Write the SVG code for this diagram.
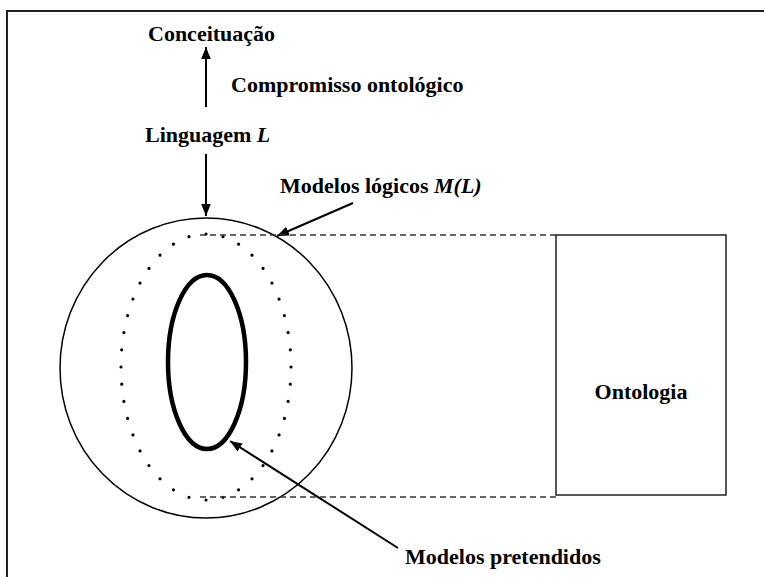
<svg xmlns="http://www.w3.org/2000/svg" width="764" height="577" viewBox="0 0 764 577">
<style>
text{font-family:"Liberation Serif","Times New Roman",serif;font-weight:bold;font-size:22px;fill:#000}
.ln{stroke:#000;stroke-width:2;fill:none}
.dash{stroke:#333;stroke-width:1.5;stroke-dasharray:6 4;fill:none}
</style>
<defs>
<marker id="ah2" viewBox="0 0 10 10" refX="10" refY="5" markerWidth="12" markerHeight="12" orient="auto" markerUnits="userSpaceOnUse">
<path d="M0,1 L10,5 L0,9 z" fill="#000"/>
</marker>
</defs>
<rect width="764" height="577" fill="#fff"/>
<path d="M7,577 V11 H764" fill="none" stroke="#222" stroke-width="2"/>
<g id="conceituacao"><text x="148" y="41">Conceituação</text></g>
<g id="compromisso"><text x="231" y="92">Compromisso ontológico</text></g>
<g id="linguagem"><text x="145" y="142">Linguagem <tspan font-style="italic">L</tspan></text></g>
<g id="modelos-logicos-label"><text x="280" y="193">Modelos lógicos <tspan font-style="italic">M(L)</tspan></text></g>
<g id="modelos-pretendidos-label"><text x="405" y="564">Modelos pretendidos</text></g>
<g id="circulo"><ellipse cx="206" cy="368" rx="146" ry="150" fill="none" stroke="#000" stroke-width="1.5"/></g>
<g id="modelos-logicos"><ellipse cx="206" cy="367" rx="85" ry="133" fill="none" stroke="#000" stroke-width="3.2" stroke-linecap="round" stroke-dasharray="0 1" pathLength="40"/></g>
<g id="modelos-pretendidos"><ellipse cx="207" cy="362" rx="39" ry="87" fill="none" stroke="#000" stroke-width="4.5"/></g>
<g id="ontologia">
<rect x="556" y="235" width="170" height="260" fill="#fff" stroke="#222" stroke-width="1.5"/>
<text x="641" y="399" text-anchor="middle">Ontologia</text>
</g>
<g id="connectors">
<line class="ln" x1="206" y1="107" x2="206" y2="47" marker-end="url(#ah2)"/>
<line class="ln" x1="206" y1="154" x2="206" y2="216" marker-end="url(#ah2)"/>
<line class="ln" x1="353" y1="203" x2="277" y2="236" marker-end="url(#ah2)"/>
<line class="ln" x1="398" y1="548" x2="230" y2="441" marker-end="url(#ah2)"/>
<line class="dash" x1="200" y1="235" x2="556" y2="235"/>
<line class="dash" x1="200" y1="497" x2="556" y2="497"/>
</g>
</svg>
